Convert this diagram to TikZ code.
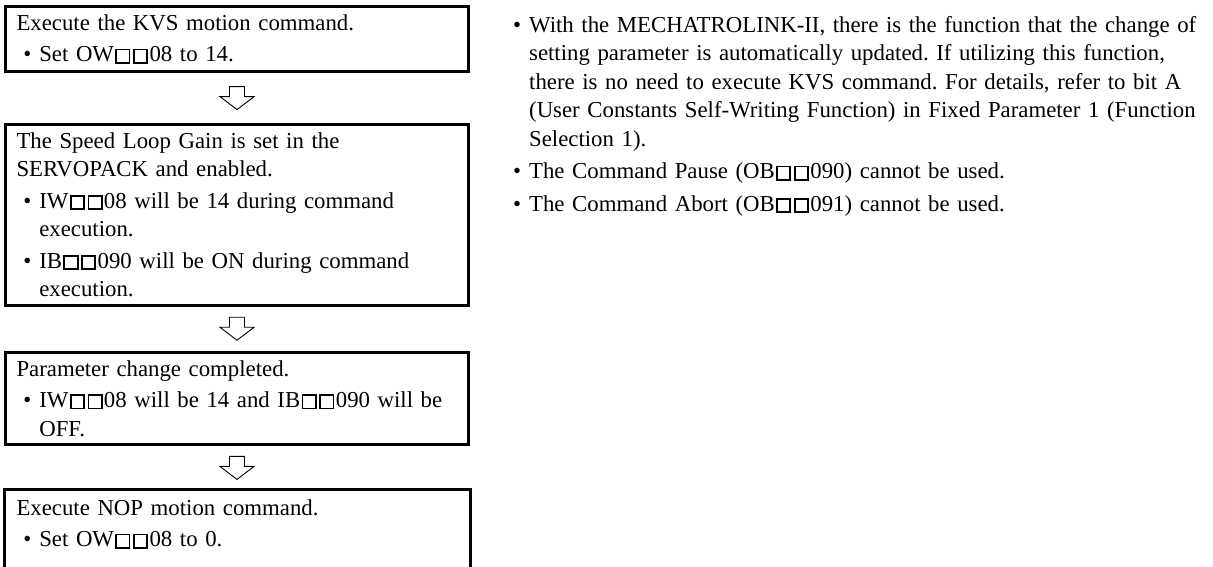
\documentclass[tikz,border=0pt]{standalone}
\usepackage{fontspec}
\setmainfont{Liberation Serif}
\usetikzlibrary{positioning, calc}
\newcommand{\sqb}{\kern0.06em{\setlength{\fboxsep}{0pt}\setlength{\fboxrule}{0.08em}%
  \fbox{\rule{0pt}{0.5em}\rule{0.5em}{0pt}}}\kern0.06em}
\newcommand{\itm}{\makebox[0.7em][l]{\textbullet}}
\newcommand{\cnt}{\hspace*{0.7em}}
\newcommand{\sub}{\hspace*{0.3em}}
\frenchspacing

\begin{document}
\begin{tikzpicture}[x=1pt, y=1pt, font=\fontsize{22.8}{28.5}\selectfont,
      stepbox/.style={draw, line width=3pt, inner xsep=11pt, inner ysep=8pt,
                      text width=441pt, align=left},
      blk/.style={draw, line width=0.9pt, line join=miter},
      note/.style={text width=700pt, align=left, inner sep=0pt}]
    \clip (0,0) rectangle (1213,567);
    \node[stepbox, anchor=north west] (kvs) at (4,562)
      {Execute the KVS motion command.\\[3pt]
       \sub\itm Set OW\sqb\sqb08 to 14.};
    \node[stepbox, below=50pt of kvs.south west, anchor=north west] (gain)
      {The Speed Loop Gain is set in the\\
       SERVOPACK and enabled.\\[3pt]
       \sub\itm IW\sqb\sqb08 will be 14 during command\\
       \sub\cnt execution.\\[3pt]
       \sub\itm IB\sqb\sqb090 will be ON during command\\
       \sub\cnt execution.};
    \node[stepbox, below=44pt of gain.south west, anchor=north west] (done)
      {Parameter change completed.\\[3pt]
       \sub\itm IW\sqb\sqb08 will be 14 and IB\sqb\sqb090 will be\\
       \sub\cnt OFF.};
    \node[stepbox, draw=none, below=44pt of done.south west, anchor=north west] (nop)
      {Execute NOP motion command.\\[3pt]
       \sub\itm Set OW\sqb\sqb08 to 0.};
    % last box runs off the page
    \draw[line width=3pt] ($(nop.south west)+(0,-60)$) -- (nop.north west)
      -- (nop.north east) -- ($(nop.south east)+(0,-60)$);
    % hollow down arrows between the steps
    \foreach \u/\l in {kvs/gain, gain/done, done/nop}{
      \coordinate (m-\u) at ($(\u.south)!0.5!(\l.north)$);
      \draw[blk] ($(m-\u)+(-7.5,11.5)$) -- ++(15,0) -- ++(0,-10) -- ++(9.5,0)
        -- ++(-17,-13) -- ++(-17,13) -- ++(9.5,0) -- cycle;}
    \node[note, anchor=north west] (notes) at (513,551)
      {\itm With the MECHATROLINK-II, there is the function that the change of\\
       \cnt setting parameter is automatically updated. If utilizing this function,\\
       \cnt there is no need to execute KVS command. For details, refer to bit A\\
       \cnt (User Constants Self-Writing Function) in Fixed Parameter 1 (Function\\
       \cnt Selection 1).\\[4pt]
       \itm The Command Pause (OB\sqb\sqb090) cannot be used.\\[4pt]
       \itm The Command Abort (OB\sqb\sqb091) cannot be used.};
  \end{tikzpicture}
\end{document}
